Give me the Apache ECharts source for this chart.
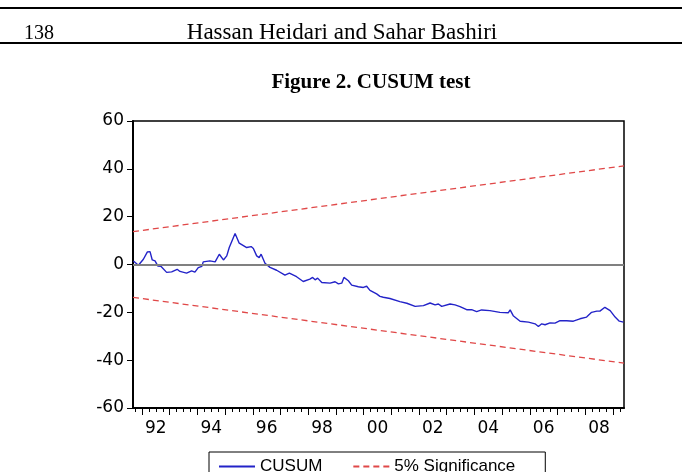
<!DOCTYPE html>
<html>
<head>
<meta charset="utf-8">
<script src="https://cdn.jsdelivr.net/npm/echarts@6/dist/echarts.min.js"></script>
<style>
  html, body { margin: 0; padding: 0; background: #fff; }
  #chart { width: 682px; height: 472px; }
</style>
</head>
<body>
<div id="chart"></div>
<script>
'use strict';

// CUSUM path: [decimal year, value]
const cusum = [
  [1991.69, 1.5], [1991.87, -0.3], [1992.05, 2.2], [1992.19, 5.2], [1992.29, 5.4],
  [1992.37, 1.9], [1992.47, 1.5], [1992.57, -0.6], [1992.69, -0.8], [1992.89, -3.3],
  [1993.07, -3.1], [1993.27, -2.0], [1993.37, -2.9], [1993.61, -3.6], [1993.79, -2.7],
  [1993.91, -3.2], [1994.03, -1.3], [1994.16, -0.8], [1994.21, 1.1], [1994.45, 1.5],
  [1994.64, 1.1], [1994.79, 4.3], [1994.94, 1.9], [1995.06, 3.6], [1995.15, 7.1],
  [1995.36, 13.0], [1995.51, 8.9], [1995.78, 7.1], [1995.94, 7.5], [1996.02, 6.7],
  [1996.14, 3.6], [1996.23, 2.9], [1996.30, 4.3], [1996.44, 0.5], [1996.62, -1.2],
  [1996.86, -2.4], [1997.16, -4.4], [1997.32, -3.6], [1997.58, -5.1], [1997.82, -7.1],
  [1998.06, -6.1], [1998.16, -5.4], [1998.25, -6.4], [1998.34, -5.7], [1998.49, -7.5],
  [1998.79, -7.8], [1998.97, -7.2], [1999.09, -8.1], [1999.21, -7.8], [1999.29, -5.4],
  [1999.45, -6.8], [1999.57, -8.6], [1999.81, -9.3], [1999.99, -9.6], [2000.11, -9.1],
  [2000.23, -10.8], [2000.47, -12.3], [2000.59, -13.3], [2000.71, -13.7], [2000.95, -14.2],
  [2001.31, -15.5], [2001.56, -16.2], [2001.86, -17.5], [2002.16, -17.2], [2002.40, -16.1],
  [2002.58, -16.9], [2002.70, -16.5], [2002.82, -17.5], [2003.12, -16.5], [2003.30, -16.9],
  [2003.48, -17.6], [2003.72, -18.9], [2003.90, -18.9], [2004.08, -19.7], [2004.26, -19.0],
  [2004.56, -19.3], [2004.92, -20.0], [2005.22, -20.2], [2005.29, -19.0], [2005.40, -21.4],
  [2005.65, -23.7], [2005.95, -24.1], [2006.19, -24.8], [2006.31, -25.9], [2006.43, -24.8],
  [2006.55, -25.2], [2006.73, -24.4], [2006.91, -24.5], [2007.09, -23.5], [2007.33, -23.5],
  [2007.57, -23.7], [2007.81, -22.7], [2008.05, -22.0], [2008.23, -20.0], [2008.42, -19.5],
  [2008.53, -19.5], [2008.71, -17.9], [2008.90, -19.3], [2009.08, -22.0], [2009.23, -23.7],
  [2009.38, -24.1]
];

// 5% bounds, straight lines between the ends
const upperBand = [[1991.675, 13.75], [2009.40, 41.25]];
const lowerBand = [[1991.675, -13.75], [2009.40, -41.25]];

const xMin = 1991.675;
const xMax = 2009.40;
const yearTicks = [1992, 1993, 1994, 1995, 1996, 1997, 1998, 1999, 2000,
  2001, 2002, 2003, 2004, 2005, 2006, 2007, 2008, 2009];
const yearLabels = [1992.5, 1994.5, 1996.5, 1998.5, 2000.5, 2002.5, 2004.5, 2006.5, 2008.5];
const quarterTicks = [];
yearTicks.forEach(y => { quarterTicks.push(y - 0.25, y + 0.25, y + 0.5); });

const sans = 'DejaVu Sans';
const serif = 'Liberation Serif';

const chart = echarts.init(document.getElementById('chart'));

chart.setOption({
  animation: false,
  backgroundColor: '#fff',
  graphic: [
    { type: 'rect', shape: { x: 0, y: 7, width: 682, height: 2 }, style: { fill: '#000' } },
    { type: 'rect', shape: { x: 0, y: 42, width: 682, height: 2 }, style: { fill: '#000' } },
    { type: 'text', x: 24, y: 34, style: { text: '138', font: '20px "' + serif + '"', fill: '#000', textVerticalAlign: 'middle' } },
    { type: 'text', x: 342, y: 33, style: { text: 'Hassan Heidari and Sahar Bashiri', font: '23px "' + serif + '"', fill: '#000', textAlign: 'center', textVerticalAlign: 'middle' } },
    { type: 'text', x: 371, y: 83, style: { text: 'Figure 2. CUSUM test', font: 'bold 21px "' + serif + '"', fill: '#000', textAlign: 'center', textVerticalAlign: 'middle' } }
  ],
  grid: {
    left: 133, right: 58, top: 121, bottom: 64,
    show: true, borderColor: '#000', borderWidth: 1.5, backgroundColor: 'transparent'
  },
  legend: {
    left: 209, top: 452,
    padding: [6, 30, 10, 9],
    borderColor: '#000', borderWidth: 1,
    itemWidth: 36, itemHeight: 10, itemGap: 30,
    itemStyle: { opacity: 0 },
    textStyle: { fontFamily: 'Liberation Sans', fontSize: 17, color: '#000' },
    data: ['CUSUM', '5% Significance']
  },
  xAxis: [
    {
      type: 'value', min: xMin, max: xMax,
      axisLine: { show: true, onZero: false, lineStyle: { color: '#000', width: 2 } },
      axisTick: { show: true, customValues: yearTicks, length: 7, lineStyle: { color: '#000' } },
      axisLabel: {
        customValues: yearLabels, margin: 12,
        fontFamily: sans, fontSize: 17, color: '#000',
        formatter: v => String(Math.floor(v) % 100).padStart(2, '0')
      },
      splitLine: { show: false }
    },
    {
      type: 'value', min: xMin, max: xMax, position: 'bottom',
      axisLine: { show: false, onZero: false },
      axisTick: { show: true, customValues: quarterTicks, length: 4, lineStyle: { color: '#000' } },
      axisLabel: { show: false },
      splitLine: { show: false }
    }
  ],
  yAxis: {
    type: 'value', min: -60, max: 60, interval: 20,
    axisLine: { show: true, onZero: false, lineStyle: { color: '#000', width: 2 } },
    axisTick: { show: true, length: 6, lineStyle: { color: '#000' } },
    axisLabel: { fontFamily: sans, fontSize: 17, color: '#000', margin: 9 },
    splitLine: { show: false }
  },
  series: [
    {
      name: 'CUSUM', type: 'line', data: cusum, symbol: 'none',
      lineStyle: { color: '#2323c8', width: 1.4 }, itemStyle: { color: '#2323c8' },
      z: 3,
      markLine: {
        silent: true, symbol: 'none', label: { show: false },
        lineStyle: { color: '#808080', width: 2, type: 'solid' },
        data: [{ yAxis: 0 }]
      }
    },
    {
      name: '5% Significance', type: 'line', data: upperBand, symbol: 'none',
      lineStyle: { color: '#e04848', width: 1.3, type: [6, 4] }, itemStyle: { color: '#e04848' }
    },
    {
      name: '5% Significance', type: 'line', data: lowerBand, symbol: 'none',
      lineStyle: { color: '#e04848', width: 1.3, type: [6, 4] }, itemStyle: { color: '#e04848' }
    }
  ]
});
</script>
</body>
</html>
